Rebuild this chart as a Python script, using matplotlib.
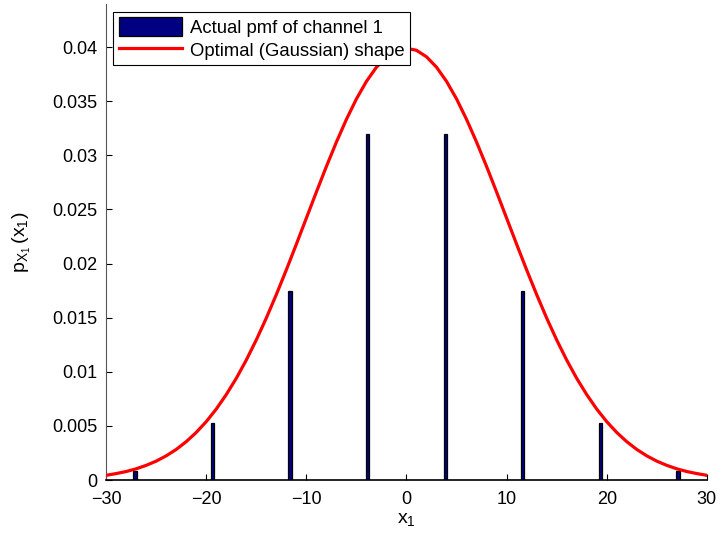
import matplotlib.pyplot as plt
import numpy as np

plt.rcParams['font.family'] = ['Liberation Sans', 'DejaVu Sans']

# pmf of channel 1 (quantised levels)
levels = [-27.125, -19.375, -11.625, -3.875, 3.875, 11.625, 19.375, 27.125]
pmf = [0.00083, 0.00524, 0.0175, 0.0320, 0.0320, 0.0175, 0.00524, 0.00083]

# optimal gaussian shape, sampled every unit from -30 to 30
gx = list(range(-30, 31))
gy = [0.00044, 0.00060, 0.00079, 0.00104, 0.00136, 0.00175, 0.00224, 0.00283,
      0.00355, 0.00440, 0.00540, 0.00656, 0.00790, 0.00940, 0.01109, 0.01295,
      0.01497, 0.01714, 0.01942, 0.02179, 0.02420, 0.02661, 0.02897, 0.03122,
      0.03332, 0.03521, 0.03683, 0.03814, 0.03910, 0.03970,
      0.03989,
      0.03970, 0.03910, 0.03814, 0.03683, 0.03521, 0.03332, 0.03122, 0.02897,
      0.02661, 0.02420, 0.02179, 0.01942, 0.01714, 0.01497, 0.01295, 0.01109,
      0.00940, 0.00790, 0.00656, 0.00540, 0.00440, 0.00355, 0.00283, 0.00224,
      0.00175, 0.00136, 0.00104, 0.00079, 0.00060, 0.00044]

fig = plt.figure(figsize=(7.22, 5.37), dpi=100)
ax = fig.add_axes([0.147, 0.106, 0.832, 0.887])

bars = ax.bar(levels, pmf, width=0.32, color=(0, 0, 0.5), edgecolor='black',
              linewidth=0.9, label='Actual pmf of channel 1', zorder=2)
line, = ax.plot(gx, gy, color='red', linewidth=2.3, label='Optimal (Gaussian) shape',
                zorder=3, solid_joinstyle='round')

ax.set_xlim(-30, 30)
ax.set_ylim(0, 0.044)
ax.set_xticks(np.arange(-30, 31, 10))
ax.set_yticks(np.arange(0, 0.0401, 0.005))
ax.set_yticklabels(['0', '0.005', '0.01', '0.015', '0.02', '0.025', '0.03', '0.035', '0.04'])
ax.tick_params(direction='in', length=4, labelsize=13, width=0.8)
ax.tick_params(axis='x', pad=8)
ax.tick_params(axis='y', pad=6)
ax.spines['top'].set_visible(False)
ax.spines['right'].set_visible(False)
ax.spines['left'].set_color('#555555')
ax.spines['bottom'].set_color('black')
ax.spines['bottom'].set_linewidth(1.2)

ax.set_xlabel('$\\mathregular{x_1}$', fontsize=14, labelpad=2)
ax.set_ylabel('$\\mathregular{p_{X_1}\\,(x_1)}$', fontsize=14, labelpad=14)

leg = ax.legend([bars, line], ['Actual pmf of channel 1', 'Optimal (Gaussian) shape'],
                loc='upper left', bbox_to_anchor=(0.012, 0.983), fontsize=13.3,
                fancybox=False, framealpha=1, edgecolor='black',
                handlelength=3.4, handleheight=1.15, handletextpad=0.45, borderpad=0.3,
                labelspacing=0.2, borderaxespad=0)
leg.get_frame().set_linewidth(0.8)

fig.savefig('out.png', dpi=100)
